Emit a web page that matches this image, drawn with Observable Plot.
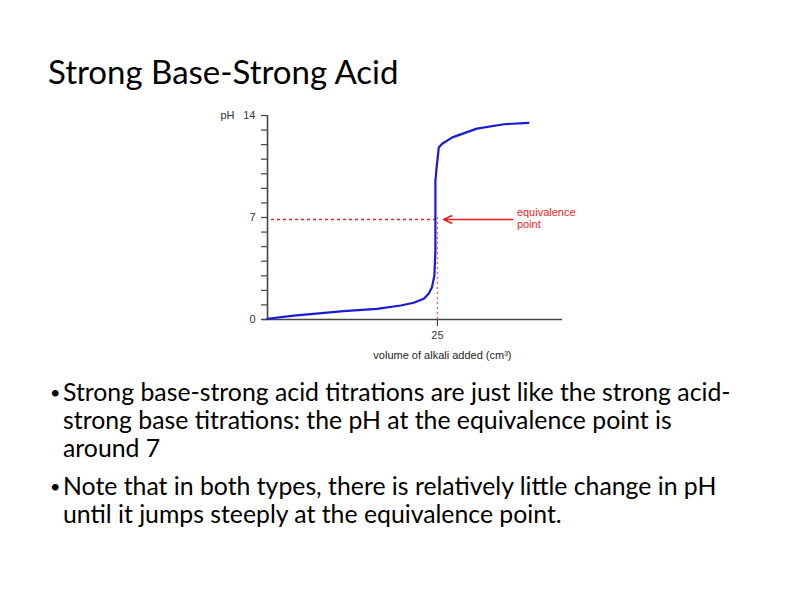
<!DOCTYPE html>
<html>
<head>
<meta charset="utf-8">
<script src="https://cdn.jsdelivr.net/npm/d3@7"></script>
<script src="https://cdn.jsdelivr.net/npm/@observablehq/plot@0.6"></script>
<style>
  html, body { margin: 0; padding: 0; background: #fff; }
  #page { position: relative; width: 800px; height: 600px; overflow: hidden; font-family: Lato, "Open Sans", sans-serif; color: #000; }
  #title { position: absolute; left: 48px; top: 51px; font-size: 33px; white-space: nowrap; }
  #chart { position: absolute; left: 0; top: 100px; }
  #bullets { position: absolute; left: 52px; top: 378px; font-size: 24.8px; line-height: 28px; white-space: nowrap; }
  .b { position: relative; padding-left: 11px; margin-bottom: 10px; }
  .b::before { content: "•"; position: absolute; left: -2px; top: 0; font-size: 18px; }
</style>
</head>
<body>
<div id="page">
  <div id="title">Strong Base-Strong Acid</div>
  <div id="chart"></div>
  <div id="bullets">
    <div class="b">Strong base-strong acid titrations are just like the strong acid-<br>strong base titrations: the pH at the equivalence point is<br>around 7</div>
    <div class="b">Note that in both types, there is relatively little change in pH<br>until it jumps steeply at the equivalence point.</div>
  </div>
</div>
<script>
// Titration curve
const volume = [0, 3.9, 11.2, 16.1, 19.6, 21.5, 23.0, 23.7, 24.2, 24.4, 24.55, 24.7, 24.7, 24.85, 25.2, 25.7, 27.2, 30.8, 34.8, 38.4];
const pH     = [0.05, 0.27, 0.57, 0.73, 0.96, 1.15, 1.42, 1.76, 2.22, 2.68, 3.0, 4.7, 9.5, 10.3, 11.8, 12.06, 12.5, 13.1, 13.4, 13.5];

// Axis ticks and labels
const yTicks = d3.range(0, 15);
const yTickLabels = [0, 7, 14];
const xTicks = [25];

// Equivalence point annotation
const eqVolume = 25;
const eqPH = 7;
const arrowFrom = 36.1;
const arrowTo = 25.9;
const eqLabel = "equivalence\npoint";
const xLabel = "volume of alkali added (cm³)";
const yLabel = "pH";

const curve = volume.map((v, i) => ({volume: v, pH: pH[i]}));
const red = "#f01c24";
const axisColor = "#444";
const font = "'Liberation Sans', Arial, sans-serif";

const chart = Plot.plot({
  width: 800,
  height: 270,
  marginLeft: 267,
  marginRight: 238,
  marginTop: 15,
  marginBottom: 51,
  style: {fontFamily: font, fontSize: "11px", background: "transparent", color: "#333"},
  x: {domain: [0, 43.4], axis: null},
  y: {domain: [0, 14], axis: null},
  marks: [
    // axes lines
    Plot.ruleY([0], {stroke: axisColor, strokeWidth: 1.3, insetLeft: -5}),
    Plot.ruleX([0], {stroke: axisColor, strokeWidth: 1.6}),
    Plot.axisY({ticks: yTicks, tickSize: 6, tickPadding: 6, stroke: axisColor, strokeWidth: 1.2,
      tickFormat: d => yTickLabels.includes(d) ? String(d) : "", label: null, fill: "#333"}),
    Plot.axisX({ticks: xTicks, tickSize: 7, tickPadding: 5, stroke: axisColor, strokeWidth: 1.2,
      tickFormat: d => String(d), label: null, fill: "#333"}),
    Plot.text([yLabel], {frameAnchor: "top-left", dx: -47, textAnchor: "start", lineAnchor: "middle", fill: "#333"}),
    Plot.text([xLabel], {x: [eqVolume], frameAnchor: "bottom", dy: 36, dx: 5, textAnchor: "middle", lineAnchor: "middle", fill: "#222"}),
    // equivalence guides
    Plot.ruleY([eqPH], {x1: 0, x2: eqVolume, stroke: red, strokeWidth: 1.6, strokeDasharray: "3,3", dy: 2, insetLeft: 4}),
    Plot.ruleX([eqVolume], {y1: 0, y2: eqPH, stroke: red, strokeWidth: 1.3, strokeOpacity: 0.7, strokeDasharray: "2,3"}),
    // curve
    Plot.line(curve, {x: "volume", y: "pH", stroke: "#1a1ad6", strokeWidth: 2.2, strokeLinejoin: "round"}),
    // arrow + label
    Plot.arrow([{x1: arrowFrom, x2: arrowTo, y: eqPH}], {x1: "x1", x2: "x2", y1: "y", y2: "y", dy: 2, stroke: red, strokeWidth: 1.5, headLength: 9, headAngle: 50}),
    Plot.text([{x: arrowFrom, y: eqPH}], {x: "x", y: "y", text: () => eqLabel, dx: 4, dy: 1, textAnchor: "start", lineAnchor: "middle", lineHeight: 1.1, fill: red, fontSize: 11})
  ]
});
document.getElementById("chart").appendChild(chart);
</script>
</body>
</html>
